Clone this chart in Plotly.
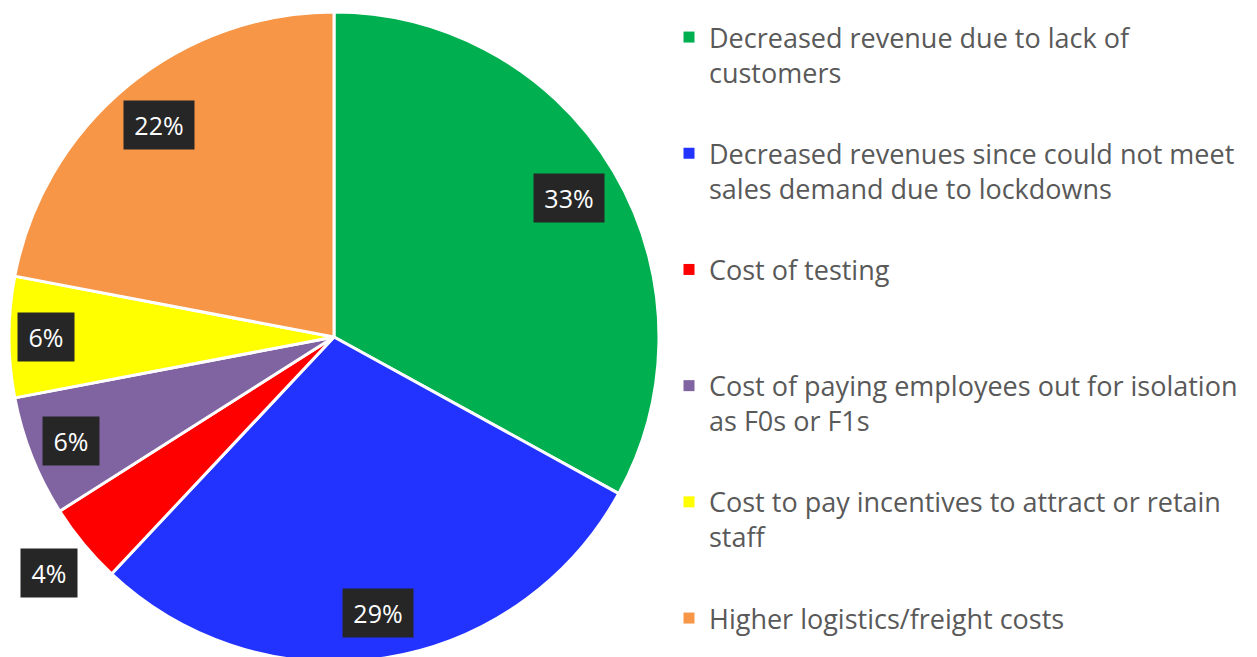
import math
import plotly.graph_objects as go

# ---- data ----
categories = [
    "Decreased revenue due to lack of<br>customers",
    "Decreased revenues since could not meet<br>sales demand due to lockdowns",
    "Cost of testing<br> ",
    "Cost of paying employees out for isolation<br>as F0s or F1s",
    "Cost to pay incentives to attract or retain<br>staff",
    "Higher logistics/freight costs",
]
values = [33, 29, 4, 6, 6, 22]
colors = ["#00B050", "#2233FF", "#FF0000", "#8064A2", "#FFFF00", "#F79646"]

# ---- layout / style ----
W, H = 1257, 657
dom_x = [1 / W, 651 / W]
dom_y = [3 / H, 653 / H]
label_radius = [0.84, 0.86, 1.14, 0.87, 0.885, 0.845]
font_family = "Open Sans, Noto Sans, sans-serif"

fig = go.Figure()
fig.add_trace(go.Pie(
    labels=categories, values=values, sort=False, direction="clockwise",
    rotation=0, textinfo="none", hoverinfo="label+percent",
    marker=dict(colors=colors, line=dict(color="white", width=3)),
    domain=dict(x=dom_x, y=dom_y), showlegend=False,
))

# legend entries (one per slice, drawn by plotly's legend)
for i, (lab, col) in enumerate(zip(categories, colors)):
    fig.add_trace(go.Scatter(
        x=[None], y=[None], mode="markers", name=lab, legendgroup=f"g{i}",
        marker=dict(symbol="square", size=11, color=col),
        showlegend=True, hoverinfo="skip",
    ))

# percentage labels placed from the pie's own geometry
px_w = (dom_x[1] - dom_x[0]) * W
px_h = (dom_y[1] - dom_y[0]) * H
R = min(px_w, px_h) / 2
cx = (dom_x[0] + dom_x[1]) / 2 * W
cy = H - (dom_y[0] + dom_y[1]) / 2 * H
total = sum(values)
cum = 0
annotations = []
for v, k in zip(values, label_radius):
    theta = 2 * math.pi * (cum + v / 2) / total
    cum += v
    xp = cx + k * R * math.sin(theta)
    yp = cy - k * R * math.cos(theta)
    txt = f"{round(100 * v / total)}%"
    annotations.append(dict(
        x=xp / W, y=1 - yp / H, xref="paper", yref="paper",
        text=txt, showarrow=False, bgcolor="#262626",
        width=14 * len(txt) + 28, height=48, borderpad=0,
        font=dict(color="white", size=25, family=font_family),
        xanchor="center", yanchor="middle",
    ))

fig.update_layout(
    width=W, height=H,
    margin=dict(l=0, r=0, t=0, b=0),
    paper_bgcolor="white", plot_bgcolor="white",
    xaxis=dict(visible=False), yaxis=dict(visible=False),
    annotations=annotations,
    legend=dict(
        x=661 / W, y=1 - 5 / H, xanchor="left", yanchor="top",
        font=dict(size=27, color="#595959", family=font_family),
        valign="top", tracegroupgap=43, bgcolor="rgba(0,0,0,0)",
        itemclick=False, itemdoubleclick=False,
    ),
)

fig.write_html("out.html")
